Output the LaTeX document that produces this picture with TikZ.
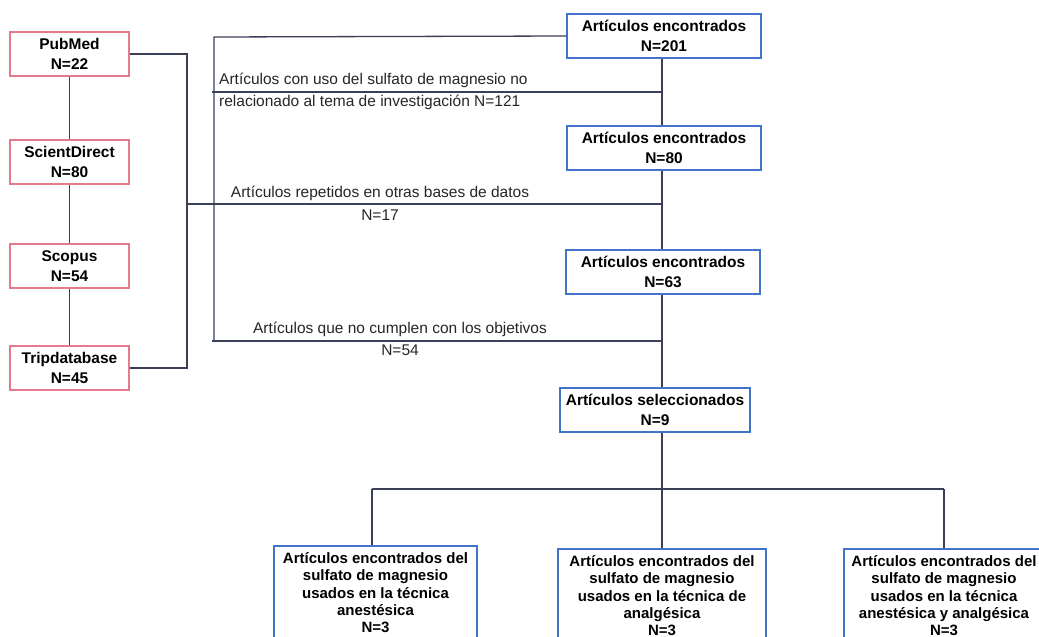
\documentclass[tikz,border=0pt]{standalone}
\usepackage{fontspec}
\setmainfont{Liberation Sans}
\definecolor{pinkb}{HTML}{E57A8C}
\definecolor{blueb}{HTML}{4173C8}
\definecolor{linec}{HTML}{3B3F58}
\begin{document}
\begin{tikzpicture}[x=1pt,y=-1pt,
  font=\fontsize{15.5}{20}\selectfont,
  srcbox/.style={draw=pinkb,line width=1.5pt,fill=white,minimum width=119pt,minimum height=44pt,inner sep=1pt,align=center,font=\fontsize{15.5}{20}\selectfont\bfseries},
  resbox/.style={draw=blueb,line width=1.5pt,fill=white,minimum width=194pt,minimum height=44pt,inner sep=1pt,align=center,font=\fontsize{15.5}{20}\selectfont\bfseries},
  endbox/.style={draw=blueb,line width=1.5pt,fill=white,anchor=north,inner xsep=2pt,inner ysep=0pt,minimum height=94pt,align=center,font=\fontsize{15}{17.2}\selectfont\bfseries},
  conn/.style={draw=linec,line width=1.3pt},
  lbl/.style={inner sep=0pt,text=black!85}]
\clip (0,0) rectangle (1039,637);
\fill[white] (0,0) rectangle (1039,637);
% source boxes
\node[srcbox] (pub) at (69.5,54) {PubMed\\N=22};
\node[srcbox] (sci) at (69.5,162) {ScientDirect\\N=80};
\node[srcbox] (sco) at (69.5,266) {Scopus\\N=54};
\node[srcbox] (tri) at (69.5,368) {Tripdatabase\\N=45};
% result boxes
\node[resbox] (r201) at (664,36) {Artículos encontrados\\N=201};
\node[resbox] (r80) at (664,148) {Artículos encontrados\\N=80};
\node[resbox] (r63) at (663,272) {Artículos encontrados\\N=63};
\node[resbox,minimum width=190pt] (rsel) at (655,410) {Artículos seleccionados\\N=9};
% final boxes
\node[endbox,minimum width=203pt] (e1) at (375.5,545) {Artículos encontrados del\\sulfato de magnesio\\usados en la técnica\\anestésica\\N=3};
\node[endbox,minimum width=208pt] (e2) at (662,548) {Artículos encontrados del\\sulfato de magnesio\\usados en la técnica de\\analgésica\\N=3};
\node[endbox,minimum width=200pt] (e3) at (944,548) {Artículos encontrados del\\sulfato de magnesio\\usados en la técnica\\anestésica y analgésica\\N=3};
% coordinates
\coordinate (bt) at (187,54);
\coordinate (bb) at (187,368);
\coordinate (bm) at (187,204);
\coordinate (vt) at (214,37);
\coordinate (vb) at (214,342);
\coordinate (h1l) at (212,92);
\coordinate (h1r) at (662,92);
\coordinate (h2r) at (662,204);
\coordinate (h3l) at (212,341);
\coordinate (h3r) at (662,341);
\coordinate (sp) at (662,489);
\coordinate (spl) at (372,489);
\coordinate (spr) at (944,489);
% connectors
\draw[conn] (pub.south) -- (sci.north);
\draw[conn] (sci.south) -- (sco.north);
\draw[conn] (sco.south) -- (tri.north);
\draw[conn] (pub.east) -- (bt) -- (bb) -- (tri.east);
\draw[conn] (bm) -- (h2r);
\draw[conn] (r201.west) -- (vt) -- (vb);
\draw[conn] (h1l) -- (h1r);
\draw[conn] (h3l) -- (h3r);
\draw[conn] (r201.south -| h1r) -- (r80.north -| h1r);
\draw[conn] (r80.south -| h1r) -- (r63.north -| h1r);
\draw[conn] (r63.south -| h1r) -- (rsel.north -| h1r);
\draw[conn] (rsel.south -| sp) -- (sp);
\draw[conn] (spl) -- (spr);
\draw[conn] (spl) -- (e1.north -| spl);
\draw[conn] (sp) -- (e2.north);
\draw[conn] (spr) -- (e3.north);
% labels
\node[lbl,anchor=west] (l1a) at (219,80) {Artículos con uso del sulfato de magnesio no};
\node[lbl,anchor=west] (l1b) at (219,102) {relacionado al tema de investigación N=121};
\node[lbl] (l2a) at (380,193) {Artículos repetidos en otras bases de datos};
\node[lbl] (l2b) at (380,215) {N=17};
\node[lbl] (l3a) at (400,329) {Artículos que no cumplen con los objetivos};
\node[lbl] (l3b) at (400,350) {N=54};
\end{tikzpicture}
\end{document}
